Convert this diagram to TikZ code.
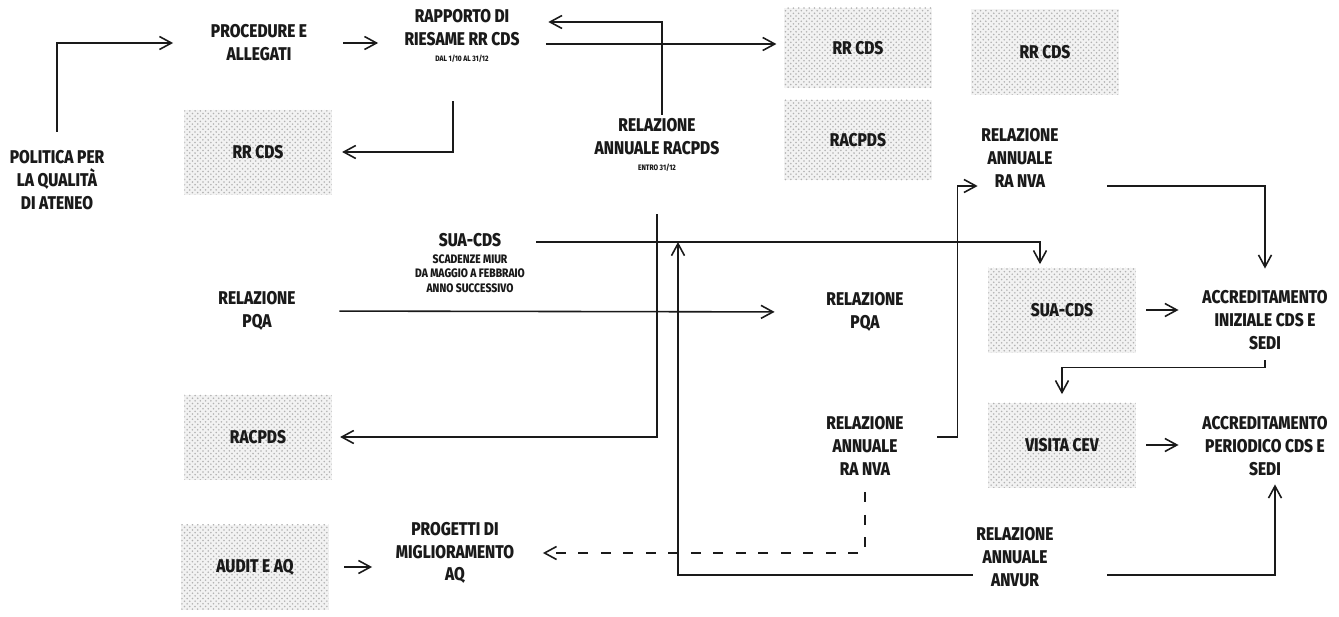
\documentclass[tikz,border=0pt]{standalone}
\usepackage{fontspec}
\newfontfamily\diafont{Fira Sans}[BoldFont={Fira Sans ExtraBold}, FakeStretch=0.84]
\usepackage{tikz}
\usetikzlibrary{arrows.meta,positioning,calc,patterns}
\definecolor{qshade}{HTML}{F2F2F2}
\definecolor{qink}{HTML}{1A1A1A}
\newcommand\smalltxt{\fontsize{7}{8.3}\selectfont}
\newcommand\tinytxt{\fontsize{4.5}{6}\selectfont}
\tikzstyle{arrow} = [-{Straight Barb[length=2.4mm,width=2.6mm]}, line width=0.9pt, qink]
\tikzstyle{lbl} = [font=\diafont\bfseries\fontsize{10.5}{13}\selectfont, align=center, inner sep=2pt, text=qink]
\tikzstyle{dotbox} = [lbl, fill=qshade, postaction={pattern=crosshatch dots, pattern color=black!30}, minimum width=2.95cm, minimum height=1.7cm]

\begin{document}
\begin{tikzpicture}[x=0.2mm, y=-0.2mm]
\useasboundingbox (0,0) rectangle (1339,617);
% left column
\node[lbl] (pol) at (57,180) {POLITICA PER\\LA QUALITÀ\\DI ATENEO};
\node[lbl] (proc) at (259,43) {PROCEDURE E\\ALLEGATI};
\node[dotbox] (rrA) at (258,152) {RR CDS};
\node[lbl] (pqaA) at (257,311) {RELAZIONE\\PQA};
\node[dotbox] (racC) at (258,437) {RACPDS};
\node[dotbox] (audit) at (255,567) {AUDIT E AQ};
% middle
\node[lbl] (rapp) at (462,36) {RAPPORTO DI\\RIESAME RR CDS\\[-4pt]\tinytxt DAL 1/10 AL 31/12};
\node[lbl, font=\diafont\bfseries\smalltxt] (sua) at (470,263) {{\fontsize{10.5}{12}\selectfont SUA-CDS}\\[1pt]SCADENZE MIUR\\DA MAGGIO A FEBBRAIO\\ANNO SUCCESSIVO};
\node[lbl] (prog) at (455,553) {PROGETTI DI\\MIGLIORAMENTO\\AQ};
\node[lbl] (rac) at (657,145) {RELAZIONE\\ANNUALE RACPDS\\[-4pt]\tinytxt ENTRO 31/12};
\node[dotbox, minimum height=1.6cm] (rrB) at (858,48) {RR CDS};
\node[dotbox, minimum height=1.6cm] (racB) at (858,140) {RACPDS};
\node[lbl] (pqaB) at (865,312) {RELAZIONE\\PQA};
\node[lbl] (nvaB) at (865,446) {RELAZIONE\\ANNUALE\\RA NVA};
% right
\node[dotbox] (rrC) at (1045,52) {RR CDS};
\node[lbl] (nvaA) at (1020,158) {RELAZIONE\\ANNUALE\\RA NVA};
\node[dotbox] (suaB) at (1062,310) {SUA-CDS};
\node[dotbox] (cev) at (1062,445) {VISITA CEV};
\node[lbl] (anvur) at (1015,557) {RELAZIONE\\ANNUALE\\ANVUR};
\node[lbl] (accI) at (1265,320) {ACCREDITAMENTO\\INIZIALE CDS E\\SEDI};
\node[lbl] (accP) at (1265,446) {ACCREDITAMENTO\\PERIODICO CDS E\\SEDI};

\coordinate (rappin) at ($(rapp.east)+(0,-14)$);
\coordinate (rappout) at ($(rapp.east)+(0,8)$);
\coordinate (suaout) at ($(sua.east)+(0,-21)$);
\coordinate (suajoin) at ($(suaout -| rac.south)+(21,0)$);
\coordinate (anvurL) at ($(anvur.west)+(0,18)$);
\coordinate (anvurR) at ($(anvur.east)+(0,18)$);

\draw[arrow, shorten <=3mm, shorten >=6.8mm] (pol.north) |- (proc.west);
\draw[arrow, shorten <=6.5mm, shorten >=4.5mm] (proc.east) -- (proc.east -| rapp.west);
\draw[arrow, shorten >=5mm] ([xshift=1mm]rac.north) |- (rappin);
\draw[arrow, shorten <=4.5mm, shorten >=1.5mm] (rappout) -- (rappout -| rrB.west);
\draw[arrow, shorten <=7mm, shorten >=2mm] ([xshift=-1.8mm]rapp.south) |- (rrA.east);
\draw[arrow, shorten <=7.8mm, shorten >=1.6mm] (rac.south) |- (racC.east);
\draw[arrow, shorten <=1.5mm, shorten >=0.6mm] (suaout) -| ([xshift=-4.4mm]suaB.north);
\draw[arrow] (anvurL) -| (suajoin);
\draw[arrow, shorten <=10mm, shorten >=1mm] (anvurR) -| ([xshift=2mm]accP.south);
\draw[arrow, shorten <=8mm, shorten >=9.6mm] (pqaA.east) -- (pqaB.west);
\draw[arrow, shorten <=6mm] ($(nvaB.east)+(0,-9)$) -- ++(50,0) |- ($(nvaA.west)+(0,28)$);
\draw[arrow, shorten <=9mm, shorten >=3.6mm] ($(nvaA.east)+(0,28)$) -| (accI.north);
\draw[arrow, shorten <=2mm, shorten >=4mm] (suaB.east) -- (suaB.east -| accI.west);
\draw[arrow, shorten <=2mm, shorten >=4mm] (cev.east) -- (cev.east -| accP.west);
\draw[arrow, shorten <=1.4mm, shorten >=1.6mm] (accI.south) -- ++(0,14) -| (cev.north);
\draw[arrow, dashed, dash pattern=on 2mm off 2.5mm, shorten <=2.6mm, shorten >=5mm] (nvaB.south) |- (prog.east);
\draw[arrow, shorten <=3mm, shorten >=4mm] (audit.east) -- (audit.east -| prog.west);
\end{tikzpicture}
\end{document}
